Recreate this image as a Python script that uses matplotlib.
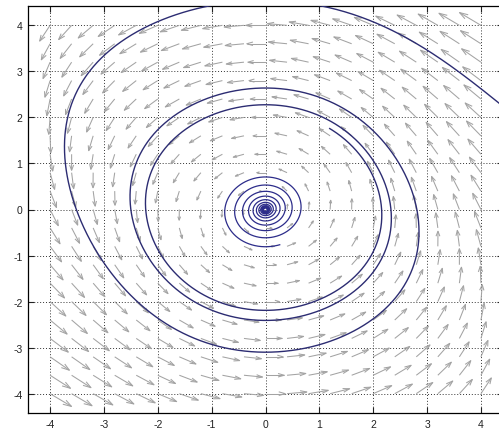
import numpy as np
import matplotlib
matplotlib.use("Agg")
import matplotlib.pyplot as plt
from matplotlib.collections import LineCollection

plt.rcParams['axes.unicode_minus'] = False
plt.rcParams['font.family'] = ['Liberation Sans', 'DejaVu Sans']

# van der pol oscillator in lienard form:
#   x' = mu*(x - x^3/3) - y,  y' = x
mu = 0.1

# quiver grid (same spacing on both axes)
grid_vals = np.linspace(-4, 4, 21)
# arrows drawn with length ~ |f|**arrow_power so slow regions stay visible
arrow_power = 0.5

# trajectories: start point and run time
outer_start = [4.4, 2.25]
outer_time = 19.4
inner_start = [0.03, 0.0]
inner_time = 68.0

ticks = [-4, -3, -2, -1, 0, 1, 2, 3, 4]
x_range = [-4.41, 4.41]
y_range = [-4.42, 4.42]


def field(x, y):
    return mu * (x - x**3 / 3.0) - y, x


def rk4(p0, t_end, dt=0.005):
    n = int(round(t_end / dt))
    pts = np.zeros((n + 1, 2))
    pts[0] = p0
    x, y = p0
    for i in range(n):
        k1 = field(x, y)
        k2 = field(x + 0.5 * dt * k1[0], y + 0.5 * dt * k1[1])
        k3 = field(x + 0.5 * dt * k2[0], y + 0.5 * dt * k2[1])
        k4 = field(x + dt * k3[0], y + dt * k3[1])
        x = x + dt / 6.0 * (k1[0] + 2 * k2[0] + 2 * k3[0] + k4[0])
        y = y + dt / 6.0 * (k1[1] + 2 * k2[1] + 2 * k3[1] + k4[1])
        pts[i + 1] = (x, y)
    return pts


def quiver_segments(X, Y, U, V):
    # matlab style autoscaled arrows with open V heads
    n = np.sqrt(X.size)
    delx = (X.max() - X.min()) / n
    dely = (Y.max() - Y.min()) / n
    lens = np.sqrt((U**2 + V**2) / (delx**2 + dely**2))
    s = 0.9 / lens.max()
    U = U * s
    V = V * s
    alpha, beta = 0.33, 0.33
    segs = []
    for x, y, u, v in zip(X.ravel(), Y.ravel(), U.ravel(), V.ravel()):
        if u == 0 and v == 0:
            continue
        tx, ty = x + u, y + v
        segs.append([(x, y), (tx, ty)])
        segs.append([(tx - alpha * (u + beta * v), ty - alpha * (v - beta * u)),
                     (tx, ty),
                     (tx - alpha * (u - beta * v), ty - alpha * (v + beta * u))])
    return segs


X, Y = np.meshgrid(grid_vals, grid_vals)
U, V = field(X, Y)
mag = np.hypot(U, V)
k = np.where(mag > 0, mag**(arrow_power - 1), 0.0)
U, V = U * k, V * k

fig = plt.figure(figsize=(4.99, 4.35), dpi=100)
ax = fig.add_axes([28 / 499, 21 / 435, 475 / 499, 407 / 435])

ax.add_collection(LineCollection(quiver_segments(X, Y, U, V),
                                 colors='#a3a3a3', linewidths=0.75, zorder=2))

outer = rk4(outer_start, outer_time)
inner = rk4(inner_start, inner_time)
ax.plot(outer[:, 0], outer[:, 1], color='#2c2c72', lw=1.0, zorder=3)
ax.plot(inner[:, 0], inner[:, 1], color='#2c2c8a', lw=0.9, zorder=3)

ax.set_xlim(x_range)
ax.set_ylim(y_range)
ax.set_xticks(ticks)
ax.set_yticks(ticks)
ax.set_axisbelow(True)
ax.grid(True, linestyle=(0, (1, 2)), color='#333333', lw=0.7)
ax.tick_params(direction='in', length=4, top=True, right=True,
               labelsize=7.5, pad=4, colors='#222222')
for sp in ax.spines.values():
    sp.set_linewidth(0.9)

plt.savefig("out.png", dpi=100)
